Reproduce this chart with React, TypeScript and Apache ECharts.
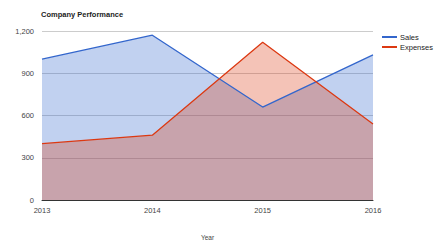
import React, { useEffect, useRef } from "react";
import * as echarts from "echarts";

const years = ["2013", "2014", "2015", "2016"];
const sales = [1000, 1170, 660, 1030];
const expenses = [400, 460, 1120, 540];
const yTicks = { min: 0, max: 1200, interval: 300 };

export default function App() {
  const ref = useRef<HTMLDivElement>(null);
  useEffect(() => {
    const chart = echarts.init(ref.current!, null, { renderer: "svg" });
    chart.setOption({
      animation: false,
      backgroundColor: "#ffffff",
      textStyle: { fontFamily: "Liberation Sans, Arial, sans-serif" },
      title: {
        text: "Company Performance",
        left: 36,
        top: 5,
        textStyle: { fontSize: 7.5, fontWeight: "bold", color: "#222" },
      },
      legend: {
        orient: "vertical",
        left: 377,
        top: 28,
        itemWidth: 15,
        itemHeight: 2,
        itemGap: 2,
        icon: "rect",
        textStyle: { fontSize: 7.5, color: "#222", padding: [0, 0, 0, -2] },
        data: ["Sales", "Expenses"],
      },
      grid: { left: 42, right: 63, top: 31, bottom: 37 },
      xAxis: {
        type: "category",
        data: years,
        boundaryGap: false,
        name: "Year",
        nameLocation: "middle",
        nameGap: 34,
        nameTextStyle: { fontSize: 6.5, color: "#444" },
        axisLine: { lineStyle: { color: "#333", width: 1 } },
        axisTick: { show: false },
        axisLabel: { fontSize: 7.5, color: "#444", margin: 6 },
      },
      yAxis: {
        type: "value",
        min: yTicks.min,
        max: yTicks.max,
        interval: yTicks.interval,
        axisLine: { show: false },
        axisTick: { show: false },
        splitLine: { lineStyle: { color: "#cccccc" } },
        axisLabel: {
          fontSize: 7.5,
          color: "#444",
          margin: 8,
          formatter: (v: number) => v.toLocaleString("en-US"),
        },
      },
      series: [
        {
          name: "Sales",
          type: "line",
          data: sales,
          symbol: "none",
          lineStyle: { color: "#3366cc", width: 1.3 },
          itemStyle: { color: "#3366cc" },
          areaStyle: { color: "#3366cc", opacity: 0.3 },
        },
        {
          name: "Expenses",
          type: "line",
          data: expenses,
          symbol: "none",
          lineStyle: { color: "#dc3912", width: 1.3 },
          itemStyle: { color: "#dc3912" },
          areaStyle: { color: "#dc3912", opacity: 0.3 },
        },
      ],
    });
    return () => chart.dispose();
  }, []);
  return <div ref={ref} style={{ width: 436, height: 246, position: "absolute", left: 0, top: 0 }} />;
}
